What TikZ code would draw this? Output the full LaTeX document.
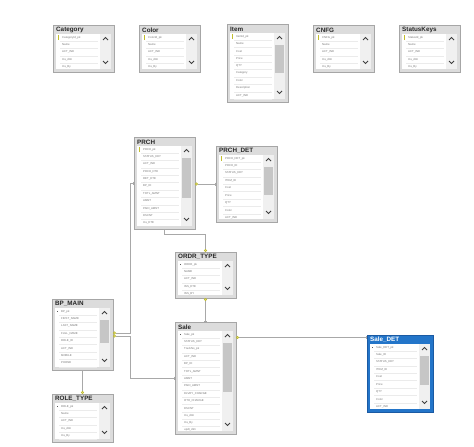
\documentclass[tikz,border=0pt]{standalone}
\usepackage{fontspec}
\setmainfont{Liberation Sans}
\usetikzlibrary{arrows.meta}

\definecolor{framegrey}{HTML}{A6A6A6}
\definecolor{framefill}{HTML}{DCDCDC}
\definecolor{selblue}{HTML}{2375C9}
\definecolor{seledge}{HTML}{1A5AA3}
\definecolor{trackgrey}{HTML}{F0F0F0}
\definecolor{thumbgrey}{HTML}{C6C6C6}
\definecolor{rowgrey}{HTML}{767676}
\definecolor{linegrey}{HTML}{A8A8A8}
\definecolor{keycol}{HTML}{C2BE2E}

\tikzset{
  tblframe-plain/.style={draw=framegrey, fill=framefill},
  tblframe-sel/.style={draw=seledge, fill=selblue, minimum width=66pt},
  tbltitle-plain/.style={text=black!85},
  tbltitle-sel/.style={text=white},
  rowtext/.style={font=\fontsize{2.8}{3}\selectfont, text=rowgrey, anchor=west, inner sep=0pt},
  rowline/.style={draw=black!8, line width=.4pt},
  chev/.style={draw=black!75, line width=.8pt},
  icon-key/.style={fill=keycol, minimum width=1.2pt, minimum height=4.5pt, inner sep=0pt},
  icon-mark/.style={fill=black!65, minimum size=1pt, inner sep=0pt},
  conn/.style={draw=linegrey, line width=.8pt,
    arrows={Bar[width=3pt,line width=.8pt]-Circle[open,length=3pt,width=3pt,color=keycol,line width=.8pt]}}
}

% kind, name, title, x, y, height, thumb end, icon, rows
\newcommand{\dbtable}[9]{%
  \node[rectangle, line width=.8pt, minimum width=61pt, minimum height=#6pt, inner sep=0pt,
    outer sep=0pt, anchor=north west, tblframe-#1] (#2) at (#4,#5) {};
  \node[font=\fontsize{6.3}{7}\selectfont\bfseries, inner sep=0pt, anchor=west, tbltitle-#1]
    (#2-t) at ([xshift=3pt,yshift=-5pt]#2.north west) {#3};
  \fill[white] ([xshift=3pt,yshift=-9pt]#2.north west) rectangle ([xshift=-3pt,yshift=3pt]#2.south east);
  \fill[trackgrey] ([xshift=-14pt,yshift=-9pt]#2.north east) rectangle ([xshift=-3pt,yshift=3pt]#2.south east);
  \ifnum#7>0
    \fill[thumbgrey] ([xshift=-13pt,yshift=-21pt]#2.north east) rectangle ([xshift=-4pt,yshift=-#7pt]#2.north east);
  \fi
  \draw[chev] ([xshift=-11pt,yshift=-15pt]#2.north east) -- ++(2.5,-2.5) -- ++(2.5,2.5);
  \draw[chev] ([xshift=-11pt,yshift=11pt]#2.south east) -- ++(2.5,2.5) -- ++(2.5,-2.5);
  \begin{scope}
    \clip ([xshift=3pt,yshift=-9pt]#2.north west) rectangle ([xshift=-14pt,yshift=3pt]#2.south east);
    \foreach \r [count=\i] in {#9} {
      \node[rowtext] at ([xshift=9pt,yshift={-5.2pt-\i*7.35pt}]#2.north west) {\r};
      \draw[rowline] ([xshift=7pt,yshift={-8.9pt-\i*7.35pt}]#2.north west)
        -- ([xshift=-16pt,yshift={-8.9pt-\i*7.35pt}]#2.north east);
    }
  \end{scope}
  \node[icon-#8] at ([xshift=5.5pt,yshift=-12.5pt]#2.north west) {};
}

\begin{document}
\begin{tikzpicture}[x=1pt, y=-1pt]
  \useasboundingbox (0,0) rectangle (474,447);

  \dbtable{plain}{cat}{Category}{53}{25}{47}{0}{key}{CategoryId\_pk,Name,ACT\_IND,Ins\_dtm,Ins\_By}
  \dbtable{plain}{col}{Color}{139}{25}{47}{0}{key}{ColorId\_pk,Name,ACT\_IND,Ins\_dtm,Ins\_By}
  \dbtable{plain}{item}{Item}{227}{24}{78}{49}{key}{ItemId\_pk,Name,Cost,Price,QTY,Category,Color,Description,ACT\_IND}
  \dbtable{plain}{cnfg}{CNFG}{313}{25}{47}{0}{key}{CNFG\_pk,Name,ACT\_IND,Ins\_dtm,Ins\_By}
  \dbtable{plain}{stk}{StatusKeys}{399}{25}{47}{0}{key}{StatusId\_pk,Name,ACT\_IND,Ins\_dtm,Ins\_By}

  \dbtable{plain}{prch}{PRCH}{134}{137}{92}{61}{key}{PRCH\_pk,STATUS\_KEY,ACT\_IND,PRCH\_DTE,RET\_DTE,BP\_ID,TOTL\_AMNT,AMNT,PAID\_AMNT,DSCNT,Ins\_DTE}
  \dbtable{plain}{prchdet}{PRCH\_DET}{216}{146}{76}{49}{key}{PRCH\_DET\_pk,PRCH\_ID,STATUS\_KEY,ITEM\_ID,Cost,Price,QTY,Color,ACT\_IND}
  \dbtable{plain}{ordr}{ORDR\_TYPE}{175}{252}{46}{0}{mark}{ORDR\_pk,NAME,ACT\_IND,INS\_DTE,INS\_BY}
  \dbtable{plain}{bp}{BP\_MAIN}{52}{299}{71}{44}{mark}{BP\_pk,FIRST\_NAME,LAST\_NAME,FULL\_NAME,ROLE\_ID,ACT\_IND,MOBILE,PHONE}
  \dbtable{plain}{sale}{Sale}{175}{322}{112}{70}{mark}{Sale\_pk,STATUS\_KEY,TrackNo\_pk,ACT\_IND,BP\_ID,TOTL\_AMNT,AMNT,PAID\_AMNT,DLVRY\_CHARGE,OTH\_CHARGE,DSCNT,Ins\_dtm,Ins\_By,updt\_dtm}
  \dbtable{sel}{saledet}{Sale\_DET}{367}{335}{77}{50}{mark}{Sale\_DET\_pk,Sale\_ID,STATUS\_KEY,ITEM\_ID,Cost,Price,QTY,Color,ACT\_IND}
  \dbtable{plain}{role}{ROLE\_TYPE}{52}{394}{48}{0}{mark}{ROLE\_pk,Name,ACT\_IND,Ins\_dtm,Ins\_By}

  \draw[conn] (prchdet.west) -- (prchdet.west -| prch.east);
  \draw[conn] (prch.south) -- ++(0,5) -| (ordr.north);
  \draw[conn] (sale.north) -- (ordr.south);
  \draw[conn] (prch.west) -- ([xshift=-4pt]prch.west) |- ([yshift=1.5pt]bp.east);
  \draw[conn] (sale.west) -- ([xshift=-45pt]sale.west) |- ([yshift=-1.5pt]bp.east);
  \draw[conn] ([yshift=-2.5pt]saledet.north west) -- ([yshift=-2.5pt]saledet.north west -| sale.east);
  \draw[conn] (bp.south) -- (role.north);
\end{tikzpicture}
\end{document}
